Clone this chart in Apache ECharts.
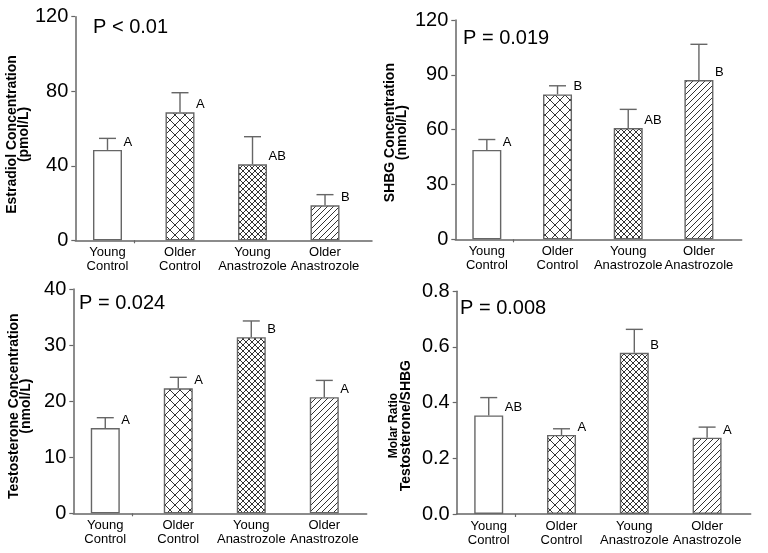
<!DOCTYPE html>
<html><head><meta charset="utf-8">
<script src="https://cdn.jsdelivr.net/npm/echarts@6/dist/echarts.min.js"></script>
<style>html,body{margin:0;padding:0;background:#fff}#c{width:768px;height:553px}</style>
</head><body><div id="c"></div>
<script>
// ---- data ----
const categories = ['Young\nControl', 'Older\nControl', 'Young\nAnastrozole', 'Older\nAnastrozole'];

const estradiolMean = [48.5, 68.7, 40.8, 18.8];
const estradiolErr = [6.2, 10.5, 14.8, 5.7];
const estradiolLetters = ['A', 'A', 'AB', 'B'];
const estradiolP = 'P < 0.01';

const shbgMean = [48.9, 79.3, 60.9, 87.1];
const shbgErr = [5.7, 4.7, 10.2, 19.6];
const shbgLetters = ['A', 'B', 'AB', 'B'];
const shbgP = 'P = 0.019';

const testoMean = [15.2, 22.3, 31.4, 20.7];
const testoErr = [1.85, 1.95, 2.9, 3.0];
const testoLetters = ['A', 'A', 'B', 'A'];
const testoP = 'P = 0.024';

const ratioMean = [0.354, 0.284, 0.579, 0.274];
const ratioErr = [0.064, 0.022, 0.084, 0.038];
const ratioLetters = ['AB', 'A', 'B', 'A'];
const ratioP = 'P = 0.008';

// ---- patterns ----
function makePattern(kind) {
  if (kind === 'none') return '#fff';
  const s = kind === 'crossLarge' ? 10 : 6;
  const c = document.createElement('canvas');
  c.width = s; c.height = s;
  const ctx = c.getContext('2d');
  ctx.fillStyle = '#fff'; ctx.fillRect(0, 0, s, s);
  ctx.strokeStyle = '#333'; ctx.lineWidth = 1;
  ctx.beginPath();
  if (kind === 'crossLarge' || kind === 'crossSmall') {
    ctx.moveTo(-1, -1); ctx.lineTo(s + 1, s + 1);
    ctx.moveTo(-1, s + 1); ctx.lineTo(s + 1, -1);
  } else {
    ctx.moveTo(-1, s + 1); ctx.lineTo(s + 1, -1);
    ctx.moveTo(-1, 1); ctx.lineTo(1, -1);
    ctx.moveTo(s - 1, s + 1); ctx.lineTo(s + 1, s - 1);
  }
  ctx.stroke();
  return { image: c, repeat: 'repeat' };
}
const fills = [makePattern('none'), makePattern('crossLarge'), makePattern('crossSmall'), makePattern('diag')];

const FONT = '"Liberation Sans", Arial, Helvetica, sans-serif';
const GRAY = '#666';

const panels = [
  { mean: estradiolMean, err: estradiolErr, letters: estradiolLetters, p: estradiolP,
    grid: { left: 75.3, top: 16.7, width: 296.7, height: 223.6 }, xr: [-0.444, 3.648],
    y: { min: 0, max: 120, interval: 40, dec: 0 },
    name: 'Estradiol Concentration\n(pmol/L)', nameGap: 42, namePad: [0, 12, 0, 0], rich: null,
    pos: { left: 93, top: 17 } },
  { mean: shbgMean, err: shbgErr, letters: shbgLetters, p: shbgP,
    grid: { left: 455.3, top: 20, width: 286.4, height: 219.3 }, xr: [-0.446, 3.605],
    y: { min: 0, max: 120, interval: 30, dec: 0 },
    name: 'SHBG Concentration\n(nmol/L)', nameGap: 47, namePad: [0, 6, 0, 0], rich: null,
    pos: { left: 463, top: 28 } },
  { mean: testoMean, err: testoErr, letters: testoLetters, p: testoP,
    grid: { left: 73.3, top: 289, width: 293.4, height: 224.3 }, xr: [-0.438, 3.581],
    y: { min: 0, max: 40, interval: 10, dec: 0 },
    name: 'Testosterone Concentration\n(nmol/L)', nameGap: 41, namePad: [0, 10, 0, 0], rich: null,
    pos: { left: 79, top: 293 } },
  { mean: ratioMean, err: ratioErr, letters: ratioLetters, p: ratioP,
    grid: { left: 456.7, top: 291.2, width: 294, height: 222.8 }, xr: [-0.44, 3.599],
    y: { min: 0, max: 0.8, interval: 0.2, dec: 1 },
    name: '{a|Molar Ratio}\n{b|Testosterone/SHBG}', nameGap: 45, namePad: [0, 46, 0, 0],
    rich: { a: { fontSize: 12, fontWeight: 'bold', fontFamily: FONT, color: '#000', lineHeight: 12 },
            b: { fontSize: 14, fontWeight: 'bold', fontFamily: FONT, color: '#000', lineHeight: 12 } },
    pos: { left: 460, top: 298 } }
];

const option = {
  animation: false,
  backgroundColor: '#fff',
  textStyle: { fontFamily: FONT },
  title: [], grid: [], xAxis: [], yAxis: [], series: []
};

panels.forEach((pn, k) => {
  option.title.push({ text: pn.p, left: pn.pos.left, top: pn.pos.top, padding: 0,
    textStyle: { fontSize: 20, fontWeight: 'normal', color: '#000', fontFamily: FONT } });
  option.grid.push(Object.assign({ containLabel: false }, pn.grid));
  option.xAxis.push({
    gridIndex: k, type: 'value', min: pn.xr[0], max: pn.xr[1],
    splitLine: { show: false },
    axisLine: { show: true, onZero: false, lineStyle: { color: GRAY, width: 1.5 } },
    axisTick: { show: true, customValues: [0.37], length: 3, lineStyle: { color: GRAY, width: 1.2 } },
    axisLabel: { customValues: [0, 1, 2, 3], formatter: v => categories[Math.round(v)],
      hideOverlap: false, showMinLabel: true, showMaxLabel: true,
      fontSize: 13, lineHeight: 14, color: '#000', margin: 5, fontFamily: FONT }
  });
  option.yAxis.push({
    gridIndex: k, type: 'value', min: pn.y.min, max: pn.y.max, interval: pn.y.interval,
    splitLine: { show: false },
    axisLine: { show: true, onZero: false, lineStyle: { color: GRAY, width: 1.5 } },
    axisTick: { show: true, length: 4, lineStyle: { color: GRAY, width: 1.2 } },
    axisLabel: { fontSize: 20, color: '#000', margin: 7, padding: [6, 0, 0, 0], fontFamily: FONT,
      formatter: v => v.toFixed(pn.y.dec) },
    name: pn.name, nameLocation: 'middle', nameGap: pn.nameGap, nameRotate: 90,
    nameTextStyle: Object.assign({ fontSize: 14, fontWeight: 'bold', color: '#000', lineHeight: 12,
      fontFamily: FONT, padding: pn.namePad }, pn.rich ? { rich: pn.rich } : {})
  });
  option.series.push({
    type: 'bar', xAxisIndex: k, yAxisIndex: k, barWidth: 29,
    data: pn.mean.map((v, i) => ({ value: [i, v], itemStyle: { color: fills[i] } })),
    itemStyle: { borderColor: GRAY, borderWidth: 1.4 }
  });
  option.series.push({
    type: 'custom', xAxisIndex: k, yAxisIndex: k, z: 5,
    data: pn.mean.map((v, i) => [i, v, pn.err[i]]),
    renderItem: (params, api) => {
      const i = api.value(0), m = api.value(1), e = api.value(2);
      const top = api.coord([i, m]);
      const cap = api.coord([i, m + e]);
      const hw = 8.5;
      return { type: 'group', children: [
        { type: 'line', shape: { x1: top[0], y1: top[1], x2: cap[0], y2: cap[1] },
          style: { stroke: GRAY, lineWidth: 1.4 } },
        { type: 'line', shape: { x1: cap[0] - hw, y1: cap[1], x2: cap[0] + hw, y2: cap[1] },
          style: { stroke: GRAY, lineWidth: 1.4 } },
        { type: 'text', x: top[0] + 16, y: top[1] - 7.5,
          style: { text: pn.letters[params.dataIndex], fill: '#000', fontSize: 13, fontFamily: FONT,
            align: 'left', verticalAlign: 'middle' } }
      ] };
    }
  });
});

const chart = echarts.init(document.getElementById('c'), null, { renderer: 'canvas' });
chart.setOption(option);
</script>
</body></html>
